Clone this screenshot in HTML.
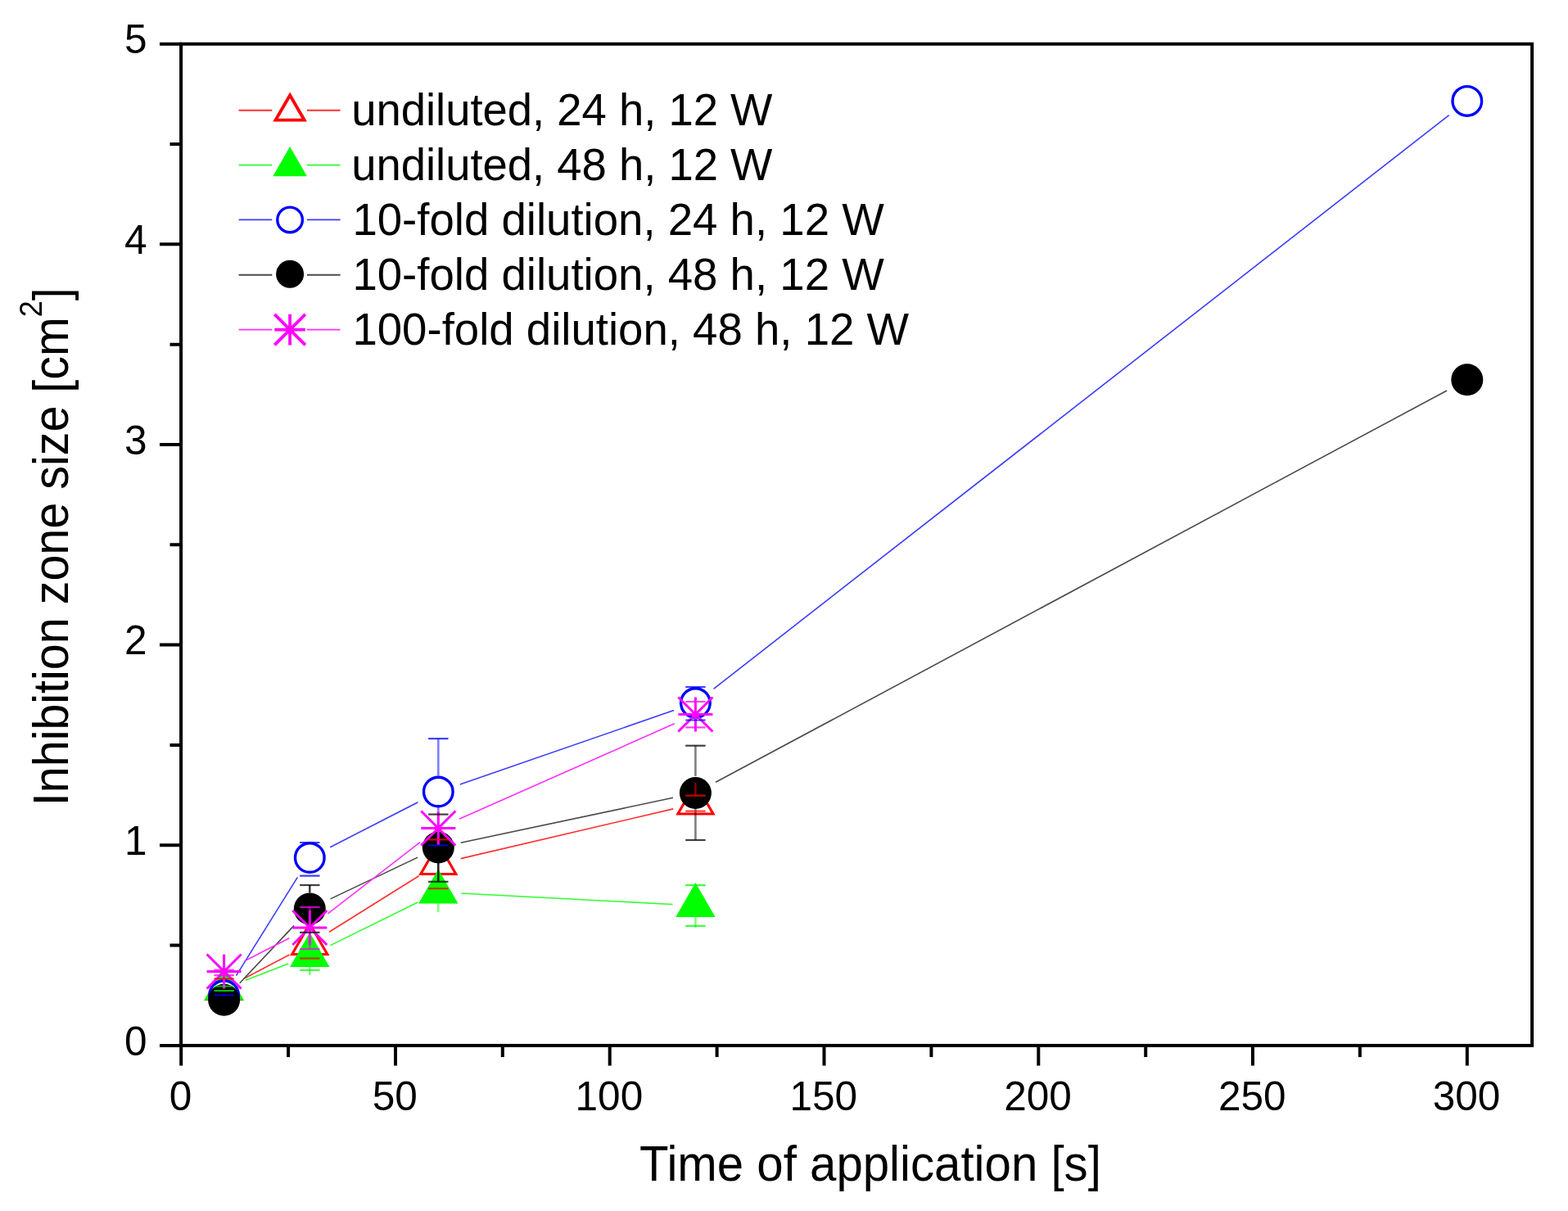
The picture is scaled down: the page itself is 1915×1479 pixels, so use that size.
<!DOCTYPE html>
<html><head><meta charset="utf-8"><title>Inhibition zone size vs time of application</title><style>
html,body{margin:0;padding:0;background:#fff;width:1915px;height:1479px;overflow:hidden}
svg{display:block}
text{font-family:"Liberation Sans",Arial,sans-serif}
</style></head><body>
<svg width="1915" height="1479" viewBox="0 0 1915 1479" font-family="Liberation Sans, Arial, sans-serif">
<rect x="221.1" y="53.7" width="1650" height="1223.2" fill="none" stroke="#000" stroke-width="4"/>
<path d="M195 1276.9H222M195 1032.3H222M195 787.6H222M195 543.0H222M195 298.3H222M195 53.7H222M207.5 1154.6H222M207.5 909.9H222M207.5 665.3H222M207.5 420.7H222M207.5 176.0H222M221.2 1276V1301.5M483.0 1276V1301.5M744.7 1276V1301.5M1006.5 1276V1301.5M1268.3 1276V1301.5M1530.0 1276V1301.5M1791.8 1276V1301.5M352.1 1276V1291M613.8 1276V1291M875.6 1276V1291M1137.4 1276V1291M1399.2 1276V1291M1660.9 1276V1291" stroke="#000" stroke-width="4" fill="none"/>
<g font-size="49.5" fill="#000"><text x="179.5" y="1288.5" text-anchor="end">0</text><text x="179.5" y="1043.9" text-anchor="end">1</text><text x="179.5" y="799.2" text-anchor="end">2</text><text x="179.5" y="554.6" text-anchor="end">3</text><text x="179.5" y="309.9" text-anchor="end">4</text><text x="179.5" y="65.3" text-anchor="end">5</text><text x="220.4" y="1356" text-anchor="middle">0</text><text x="482.2" y="1356" text-anchor="middle">50</text><text x="743.9" y="1356" text-anchor="middle">100</text><text x="1005.7" y="1356" text-anchor="middle">150</text><text x="1267.5" y="1356" text-anchor="middle">200</text><text x="1529.2" y="1356" text-anchor="middle">250</text><text x="1791.0" y="1356" text-anchor="middle">300</text></g>
<text transform="translate(781,1442) scale(1,1.035)" font-size="58.2">Time of application [s]</text>
<text transform="translate(83.3,984.2) rotate(-90) scale(1,1.06)" font-size="57.45">Inhibition zone size [cm<tspan font-size="36" dy="-30.6">2</tspan><tspan dy="30.6">]</tspan></text>
<path d="M298.3 1195.0L353.5 1166.0M402.0 1138.2L511.6 1069.8M562.6 1048.6L822.2 987.9" stroke="#ff3030" stroke-width="1.6" fill="none"/>
<path d="M299.7 1197.3L352.1 1177.1M403.4 1154.6L510.2 1101.9M563.3 1091.0L821.5 1104.5" stroke="#30ff30" stroke-width="1.6" fill="none"/>
<path d="M288.4 1191.7L363.4 1071.3M403.2 1034.7L510.4 979.8M561.8 957.9L823.0 867.6M871.5 841.3L1769.7 140.6" stroke="#3c3cff" stroke-width="1.6" fill="none"/>
<path d="M292.7 1200.8L359.1 1130.4M403.5 1097.9L510.1 1047.1M562.7 1029.2L822.0 974.3M874.1 955.3L1767.1 477.0" stroke="#4a4a4a" stroke-width="1.6" fill="none"/>
<path d="M298.5 1173.8L353.3 1145.7M400.4 1115.9L513.2 1028.6M560.9 1000.2L823.8 883.8" stroke="#ff30ff" stroke-width="1.6" fill="none"/>
<polygon points="273.6,1183.1 295.1,1220.5 252.0,1220.5" fill="#fff" stroke="#ff0000" stroke-width="3.1" stroke-linejoin="miter"/>
<polygon points="378.3,1128.1 399.8,1165.5 356.7,1165.5" fill="#fff" stroke="#ff0000" stroke-width="3.1" stroke-linejoin="miter"/>
<polygon points="535.3,1030.1 556.8,1067.5 513.8,1067.5" fill="#fff" stroke="#ff0000" stroke-width="3.1" stroke-linejoin="miter"/>
<polygon points="849.4,956.6 871.0,994.0 827.9,994.0" fill="#fff" stroke="#ff0000" stroke-width="3.1" stroke-linejoin="miter"/>
<polygon points="273.6,1179.4 297.8,1221.4 249.4,1221.4" fill="#00ff00"/>
<polygon points="378.3,1139.0 402.5,1181.0 354.1,1181.0" fill="#00ff00"/>
<polygon points="535.3,1061.5 559.5,1103.5 511.1,1103.5" fill="#00ff00"/>
<polygon points="849.4,1078.0 873.6,1120.0 825.2,1120.0" fill="#00ff00"/>
<circle cx="273.6" cy="1215.5" r="17.8" fill="#fff" stroke="#0000ff" stroke-width="3.4"/>
<circle cx="378.3" cy="1047.5" r="17.8" fill="#fff" stroke="#0000ff" stroke-width="3.4"/>
<circle cx="535.3" cy="967.0" r="17.8" fill="#fff" stroke="#0000ff" stroke-width="3.4"/>
<circle cx="849.4" cy="858.5" r="17.8" fill="#fff" stroke="#0000ff" stroke-width="3.4"/>
<circle cx="1791.8" cy="123.4" r="17.8" fill="#fff" stroke="#0000ff" stroke-width="3.4"/>
<circle cx="273.6" cy="1221.2" r="19.5" fill="#000"/>
<circle cx="378.3" cy="1110.0" r="19.5" fill="#000"/>
<circle cx="535.3" cy="1035.0" r="19.5" fill="#000"/>
<circle cx="849.4" cy="968.5" r="19.5" fill="#000"/>
<circle cx="1791.8" cy="463.8" r="19.5" fill="#000"/>
<path d="M252.6 1186.5H294.6M273.6 1165.5V1207.5M252.6 1165.5L294.6 1207.5M252.6 1207.5L294.6 1165.5" stroke="#ff00ff" stroke-width="3.0" fill="none"/>
<path d="M357.3 1133.0H399.3M378.3 1112.0V1154.0M357.3 1112.0L399.3 1154.0M357.3 1154.0L399.3 1112.0" stroke="#ff00ff" stroke-width="3.0" fill="none"/>
<path d="M514.3 1011.5H556.3M535.3 990.5V1032.5M514.3 990.5L556.3 1032.5M514.3 1032.5L556.3 990.5" stroke="#ff00ff" stroke-width="3.0" fill="none"/>
<path d="M828.4 872.5H870.4M849.4 851.5V893.5M828.4 851.5L870.4 893.5M828.4 893.5L870.4 851.5" stroke="#ff00ff" stroke-width="3.0" fill="none"/>
<path d="M261.4 1215.3H285.8" stroke="#0000ff" stroke-width="2.2" stroke-opacity="0.75" fill="none"/>
<path d="M261.4 1204.5H285.8M261.4 1210.0H285.8" stroke="#00ff00" stroke-width="2.2" stroke-opacity="0.75" fill="none"/>
<path d="M261.4 1184.5H285.8M261.4 1191.2H285.8" stroke="#ff00ff" stroke-width="2.2" stroke-opacity="0.75" fill="none"/>
<path d="M261.4 1195.3H285.8" stroke="#ff0000" stroke-width="2.2" stroke-opacity="0.75" fill="none"/>
<path d="M366.1 1029.0H390.5M366.1 1069.6H390.5" stroke="#0000ff" stroke-width="2.2" stroke-opacity="0.75" fill="none"/>
<path d="M366.1 1081.0H390.5" stroke="#000000" stroke-width="2.2" stroke-opacity="0.75" fill="none"/>
<path d="M378.3 1081.0V1090.5" stroke="#000000" stroke-width="2.6" stroke-opacity="0.75" fill="none"/>
<path d="M366.1 1138.8H390.5" stroke="#000000" stroke-width="2.2" stroke-opacity="0.75" fill="none"/>
<path d="M366.1 1107.8H390.5M366.1 1159.0H390.5" stroke="#ff00ff" stroke-width="2.2" stroke-opacity="0.75" fill="none"/>
<path d="M378.3 1107.8V1112.5M378.3 1153.5V1159.0" stroke="#ff00ff" stroke-width="2.6" stroke-opacity="0.5" fill="none"/>
<path d="M366.1 1170.5H390.5" stroke="#ff0000" stroke-width="2.2" stroke-opacity="0.75" fill="none"/>
<path d="M366.1 1184.8H390.5" stroke="#00ff00" stroke-width="2.2" stroke-opacity="0.75" fill="none"/>
<path d="M378.3 1181.0V1191.0" stroke="#00ff00" stroke-width="2.6" stroke-opacity="0.5" fill="none"/>
<path d="M523.1 902.1H547.5" stroke="#0000ff" stroke-width="2.2" stroke-opacity="0.75" fill="none"/>
<path d="M535.3 902.1V947.5" stroke="#0000ff" stroke-width="2.6" stroke-opacity="0.5" fill="none"/>
<path d="M523.1 1032.4H547.5" stroke="#0000ff" stroke-width="2.2" stroke-opacity="0.75" fill="none"/>
<path d="M535.3 986.0V990.0" stroke="#0000ff" stroke-width="2.6" stroke-opacity="0.5" fill="none"/>
<path d="M523.1 994.6H547.5" stroke="#000000" stroke-width="2.2" stroke-opacity="0.75" fill="none"/>
<path d="M523.1 1076.8H547.5" stroke="#000000" stroke-width="2.2" stroke-opacity="0.75" fill="none"/>
<path d="M535.3 1053.5V1076.8" stroke="#000000" stroke-width="2.6" stroke-opacity="0.85" fill="none"/>
<path d="M523.1 1025.4H547.5M523.1 1085.2H547.5" stroke="#ff0000" stroke-width="2.2" stroke-opacity="0.75" fill="none"/>
<path d="M535.3 1103.5V1114.0" stroke="#00ff00" stroke-width="2.6" stroke-opacity="0.5" fill="none"/>
<path d="M837.2 839.0H861.6M837.2 879.5H861.6" stroke="#0000ff" stroke-width="2.2" stroke-opacity="0.75" fill="none"/>
<path d="M837.2 857.0H861.6M837.2 888.4H861.6" stroke="#ff00ff" stroke-width="2.2" stroke-opacity="0.75" fill="none"/>
<path d="M837.2 910.7H861.6" stroke="#000000" stroke-width="2.2" stroke-opacity="0.75" fill="none"/>
<path d="M849.4 910.7V948.0" stroke="#000000" stroke-width="2.6" stroke-opacity="0.5" fill="none"/>
<path d="M837.2 1026.0H861.6" stroke="#000000" stroke-width="2.2" stroke-opacity="0.75" fill="none"/>
<path d="M849.4 987.0V1026.0" stroke="#000000" stroke-width="2.6" stroke-opacity="0.5" fill="none"/>
<path d="M837.2 971.6H861.6M837.2 990.7H861.6" stroke="#ff0000" stroke-width="2.2" stroke-opacity="0.75" fill="none"/>
<path d="M849.4 956.0V971.6" stroke="#ff0000" stroke-width="2.6" stroke-opacity="0.5" fill="none"/>
<path d="M837.2 1081.1H861.6M837.2 1130.8H861.6" stroke="#00ff00" stroke-width="2.2" stroke-opacity="0.75" fill="none"/>
<path d="M849.4 1120.0V1133.0" stroke="#00ff00" stroke-width="2.6" stroke-opacity="0.5" fill="none"/>
<path d="M291.6 134.7H332.3M374.9 134.7H415.6" stroke="#ff3030" stroke-width="1.9"/>
<polygon points="354.1,116.3 371.6,146.6 336.6,146.6" fill="#fff" stroke="#ff0000" stroke-width="3.9" stroke-linejoin="miter"/>
<text transform="translate(429.2,153.1) scale(1,1.03)" font-size="54.42">undiluted, 24 h, 12 W</text>
<path d="M291.6 201.6H332.3M374.9 201.6H415.6" stroke="#30ff30" stroke-width="1.9"/>
<polygon points="354.1,179.1 374.9,215.2 333.3,215.2" fill="#00ff00"/>
<text transform="translate(429.2,220.0) scale(1,1.03)" font-size="54.42">undiluted, 48 h, 12 W</text>
<path d="M291.6 268.4H332.3M374.9 268.4H415.6" stroke="#3c3cff" stroke-width="1.9"/>
<circle cx="354.1" cy="268.4" r="15.3" fill="#fff" stroke="#0000ff" stroke-width="3.4"/>
<text transform="translate(430.4,286.8) scale(1,1.03)" font-size="54.6">10-fold dilution, 24 h, 12 W</text>
<path d="M291.6 335.8H332.3M374.9 335.8H415.6" stroke="#4a4a4a" stroke-width="1.9"/>
<circle cx="354.1" cy="334.8" r="17.0" fill="#000"/>
<text transform="translate(430.4,354.2) scale(1,1.03)" font-size="54.6">10-fold dilution, 48 h, 12 W</text>
<path d="M291.6 402.6H332.3M374.9 402.6H415.6" stroke="#ff30ff" stroke-width="1.9"/>
<path d="M335.3 402.6H372.9M354.1 383.8V421.4M335.3 383.8L372.9 421.4M335.3 421.4L372.9 383.8" stroke="#ff00ff" stroke-width="3.8" fill="none"/>
<text transform="translate(430.4,421.0) scale(1,1.03)" font-size="54.6">100-fold dilution, 48 h, 12 W</text>
</svg>
</body></html>
